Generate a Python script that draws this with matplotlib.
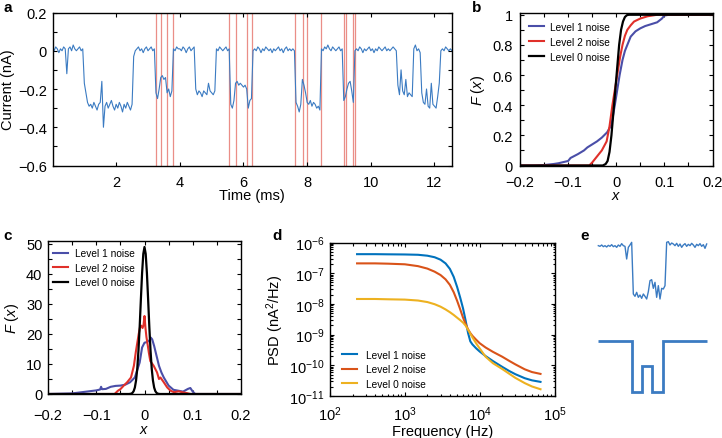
import numpy as np
import matplotlib
matplotlib.use("Agg")
import matplotlib.pyplot as plt
from matplotlib.ticker import MultipleLocator, LogLocator, NullFormatter, FixedLocator, FuncFormatter

plt.rcParams['font.family'] = ['Liberation Sans', 'DejaVu Sans']
plt.rcParams['mathtext.fontset'] = 'custom'
plt.rcParams['mathtext.rm'] = 'Liberation Sans'
plt.rcParams['mathtext.it'] = 'Liberation Sans:italic'

# ---------------- data ----------------
# Panel a: current trace (nA), sampled every trace_dt ms
trace_dt = 0.05
trace_values = [
    0.01, 0.00, 0.02, 0.01, -0.01, 0.01, 0.00, 0.02, 0.01, -0.12, 0.01, 0.02, 0.00, 0.03, 0.01, 0.00, 0.01, 0.02, 0.00, 0.01,
    -0.17, -0.22, -0.27, -0.29, -0.28, -0.30, -0.27, -0.29, -0.31, -0.28, -0.27, -0.16, -0.40, -0.29, -0.27, -0.30, -0.28, -0.26, -0.29, -0.31,
    -0.28, -0.30, -0.27, -0.29, -0.32, -0.28, -0.30, -0.27, -0.29, -0.31, -0.28, -0.03, 0.00, 0.01, 0.02, 0.00, 0.01, -0.01, 0.01, 0.02,
    0.00, 0.01, 0.02, 0.00, 0.01, -0.22, -0.25, -0.20, -0.14, -0.13, -0.15, -0.14, -0.22, -0.20, -0.24, -0.21, 0.01, 0.00, 0.02, 0.01,
    0.01, 0.00, 0.02, 0.01, -0.01, 0.01, 0.02, 0.00, 0.01, 0.02, -0.20, -0.23, -0.21, -0.22, -0.24, -0.21, -0.22, -0.23, -0.17, -0.21,
    -0.22, -0.23, -0.21, 0.01, 0.00, 0.02, 0.01, 0.00, 0.01, 0.02, 0.00, 0.01, -0.28, -0.30, -0.26, -0.17, -0.16, -0.18, -0.17, -0.18,
    -0.19, -0.18, -0.20, -0.30, -0.26, -0.25, 0.00, 0.01, 0.00, 0.02, 0.01, -0.01, 0.01, 0.00, 0.02, 0.01, 0.00, 0.01, -0.01, 0.01,
    0.00, 0.01, 0.02, 0.00, 0.01, -0.01, 0.01, 0.02, 0.00, 0.01, 0.00, 0.01, 0.00, -0.27, -0.29, -0.32, -0.28, -0.15, -0.18, -0.22,
    -0.27, -0.28, -0.26, -0.29, -0.27, -0.28, -0.30, -0.29, -0.31, 0.01, 0.00, 0.02, 0.01, 0.03, 0.01, 0.00, 0.02, 0.01, 0.00, 0.01,
    0.02, 0.00, 0.01, -0.26, -0.24, -0.20, -0.17, -0.16, -0.21, -0.27, 0.00, 0.01, 0.00, 0.02, 0.01, -0.01, 0.01, 0.00, 0.01, 0.02,
    0.00, 0.01, -0.01, 0.01, 0.00, 0.02, 0.01, 0.00, 0.01, 0.02, 0.00, 0.01, 0.00, 0.01, 0.02, 0.01, 0.00, -0.18, -0.23, -0.10,
    -0.21, -0.23, -0.15, -0.24, -0.22, -0.23, -0.24, 0.01, 0.03, 0.00, 0.01, -0.01, -0.22, -0.27, -0.28, -0.20, -0.29, -0.30, -0.17, -0.28,
    -0.29, -0.30, -0.24, -0.17, 0.00, 0.01, 0.00, 0.02, 0.01, 0.00, 0.01, 0.00,
]
event_lines_ms = [3.25, 3.41, 3.60, 3.77, 5.56, 5.75, 6.11, 6.28,
                  7.63, 7.86, 8.00, 8.42, 9.15, 9.21, 9.45, 9.49]

# Panel b: cumulative distributions
cdf_l1_x = [-0.20, -0.17, -0.15, -0.13, -0.12, -0.10, -0.095, -0.08, -0.067, -0.06, -0.04, -0.03, -0.019, -0.01,
            -0.003, 0.002, 0.007, 0.013, 0.018, 0.023, 0.03, 0.04, 0.05, 0.06, 0.07, 0.085, 0.095, 0.10, 0.11, 0.20]
cdf_l1_y = [0.0, 0.0, 0.003, 0.01, 0.015, 0.03, 0.05, 0.075, 0.10, 0.12, 0.16, 0.185, 0.22, 0.27,
            0.40, 0.50, 0.60, 0.70, 0.76, 0.80, 0.855, 0.89, 0.91, 0.925, 0.935, 0.95, 0.975, 0.995, 1.0, 1.0]
cdf_l2_x = [-0.20, -0.056, -0.05, -0.04, -0.03, -0.02, -0.014, -0.008, -0.003, 0.002, 0.008, 0.013, 0.018,
            0.023, 0.03, 0.037, 0.05, 0.065, 0.085, 0.20]
cdf_l2_y = [0.0, 0.0, 0.02, 0.06, 0.10, 0.16, 0.26, 0.40, 0.50, 0.60, 0.72, 0.80, 0.86,
            0.90, 0.93, 0.955, 0.975, 0.99, 1.0, 1.0]
cdf_l0_x = [-0.20, -0.028, -0.022, -0.018, -0.014, -0.010, -0.006, -0.002, 0.002, 0.006, 0.010, 0.014,
            0.018, 0.022, 0.026, 0.20]
cdf_l0_y = [0.0, 0.0, 0.01, 0.03, 0.09, 0.20, 0.35, 0.50, 0.65, 0.80, 0.90, 0.955,
            0.985, 0.997, 1.0, 1.0]

# Panel c: probability densities
pdf_l1_x = [-0.20, -0.15, -0.12, -0.10, -0.092, -0.09, -0.088, -0.08, -0.07, -0.06, -0.05, -0.04, -0.03, -0.02,
            -0.01, -0.005, 0.0, 0.005, 0.01, 0.013, 0.016, 0.02, 0.025, 0.03, 0.035, 0.04, 0.05, 0.06,
            0.07, 0.08, 0.09, 0.095, 0.10, 0.105, 0.20]
pdf_l1_y = [0.0, 0.2, 0.8, 1.2, 1.5, 2.4, 1.6, 1.7, 2.4, 2.7, 2.8, 3.1, 3.9, 5.5,
            10.5, 15.5, 17.1, 17.3, 17.8, 18.8, 18.2, 16.0, 12.7, 9.4, 7.2, 5.5, 2.8, 1.4,
            1.1, 0.8, 1.7, 2.0, 0.8, 0.0, 0.0]
pdf_l2_x = [-0.20, -0.062, -0.055, -0.05, -0.043, -0.036, -0.028, -0.022, -0.018, -0.012, -0.009, -0.007,
            -0.004, -0.002, 0.0, 0.002, 0.004, 0.007, 0.009, 0.012, 0.019, 0.026, 0.03, 0.033,
            0.04, 0.047, 0.054, 0.061, 0.071, 0.078, 0.088, 0.095, 0.20]
pdf_l2_y = [0.0, 0.0, 1.1, 1.6, 2.8, 3.9, 5.5, 9.4, 14.0, 20.0, 22.5, 22.8,
            22.0, 23.0, 26.0, 22.0, 19.0, 16.0, 13.8, 11.0, 9.4, 7.2, 5.0, 5.5,
            3.9, 2.2, 1.1, 0.6, 0.9, 0.6, 0.3, 0.0, 0.0]
pdf_l0_x = [-0.20, -0.0325, -0.030, -0.0275, -0.025, -0.0225, -0.020, -0.0175, -0.015, -0.0125, -0.010, -0.0075,
            -0.005, -0.0025, 0.0, 0.0025, 0.005, 0.0075, 0.010, 0.0125, 0.015, 0.0175, 0.020,
            0.0225, 0.025, 0.0275, 0.030, 0.0325, 0.20]
pdf_l0_y = [0.0, 0.0, 0.04, 0.13, 0.37, 0.94, 2.15, 4.5, 8.4, 14.5, 22.4, 31.6,
            40.3, 46.7, 49.0, 46.7, 40.3, 31.6, 22.4, 14.5, 8.4, 4.5, 2.15,
            0.94, 0.37, 0.13, 0.04, 0.0, 0.0]

# Panel d: power spectral densities (log10 of nA^2/Hz)
psd_freq = [230, 400, 600, 1000, 1500, 2000, 2500, 3000, 3500, 4000, 4500, 5000, 5500, 6000, 6500, 7000,
            7500, 8000, 9000, 10000, 12000, 15000, 20000, 25000, 30000, 40000, 50000, 65000]
psd_l1_log = [-6.38, -6.38, -6.385, -6.39, -6.40, -6.43, -6.48, -6.56, -6.68, -6.86, -7.12, -7.45, -7.80, -8.15,
              -8.55, -8.95, -9.22, -9.32, -9.45, -9.55, -9.70, -9.86, -10.05, -10.19, -10.29, -10.42, -10.49, -10.54]
psd_l2_log = [-6.68, -6.68, -6.69, -6.71, -6.77, -6.85, -6.95, -7.06, -7.20, -7.38, -7.62, -7.90, -8.18, -8.45,
              -8.66, -8.83, -8.95, -9.04, -9.17, -9.28, -9.42, -9.56, -9.72, -9.86, -9.97, -10.13, -10.22, -10.28]
psd_l0_log = [-7.84, -7.84, -7.85, -7.86, -7.89, -7.94, -8.01, -8.09, -8.18, -8.27, -8.36, -8.45, -8.53, -8.61,
              -8.71, -8.84, -8.97, -9.09, -9.29, -9.45, -9.72, -9.93, -10.12, -10.28, -10.41, -10.58, -10.69, -10.78]

# Panel e: schematic trace and idealised levels
e_trace_x = list(range(175, 501, 5))
e_trace_y = [110, 112, 108, 113, 110, 114, 109, 112, 107, 113, 110, 115, 108, 112, 104, 110, 112, 150, 115, 108,
             100, 255, 262, 250, 265, 258, 268, 255, 262, 270, 248, 215, 212, 238, 220, 265, 230, 270, 238, 240,
             230, 100, 98, 108, 102, 105, 110, 103, 112, 105, 115, 108, 104, 112, 106, 110, 103, 108, 115, 106,
             110, 104, 112, 107, 118, 105]
e_step_edges = [175, 275, 305, 335, 368, 500]
e_step_levels = [395, 550, 470, 550, 395]

# ---------------- figure ----------------
W, H = 722, 439
fig = plt.figure(figsize=(W / 100, H / 100), dpi=100)


def add_ax(left, top, right, bottom):
    return fig.add_axes([left / W, 1 - bottom / H, (right - left) / W, (bottom - top) / H])


def style(ax, xpad=7, ypad=4):
    ax.tick_params(which='both', direction='in', top=True, right=True, length=3, width=0.8,
                   labelsize=10.5)
    ax.tick_params(axis='x', pad=xpad)
    ax.tick_params(axis='y', pad=ypad)
    for s in ax.spines.values():
        s.set_linewidth(1.0)


fmt_num = FuncFormatter(lambda v, p: ('0' if abs(v) < 1e-9 else f'{v:g}'.replace('-', '\u2212')))
fmt_1 = FuncFormatter(lambda v, p: ('0' if abs(v) < 1e-9 else f'{v:.1f}'.replace('-', '\u2212')))

TRACE_BLUE = '#3b7bc2'
C_BLUE = '#4a4ea8'
C_RED = '#e0302a'

# Panel a
axa = add_ax(52.5, 13.5, 452, 166.5)
t = np.arange(len(trace_values)) * trace_dt
for xl in event_lines_ms:
    axa.axvline(xl, color='#e8827a', lw=0.9, alpha=0.9, zorder=1)
axa.plot(t, trace_values, color=TRACE_BLUE, lw=0.8, zorder=2)
axa.set_xlim(0, 12.55)
axa.set_ylim(-0.6, 0.2)
axa.xaxis.set_major_locator(FixedLocator([2, 4, 6, 8, 10, 12]))
axa.yaxis.set_major_locator(MultipleLocator(0.2))
axa.yaxis.set_minor_locator(MultipleLocator(0.1))
style(axa)
axa.yaxis.set_major_formatter(fmt_1)
axa.set_xlabel('Time (ms)', fontsize=10.5, labelpad=-1)
axa.set_ylabel('Current (nA)', fontsize=10.5, labelpad=2)

# Panel b
axb = add_ax(520, 13.5, 712.5, 166.5)
axb.plot(cdf_l1_x, cdf_l1_y, color=C_BLUE, lw=1.5, label='Level 1 noise')
axb.plot(cdf_l2_x, cdf_l2_y, color=C_RED, lw=1.5, label='Level 2 noise')
axb.plot(cdf_l0_x, cdf_l0_y, color='black', lw=1.6, label='Level 0 noise')
axb.set_xlim(-0.2, 0.2)
axb.set_ylim(0, 1.015)
axb.xaxis.set_major_locator(MultipleLocator(0.1))
axb.xaxis.set_minor_locator(MultipleLocator(0.05))
axb.yaxis.set_major_locator(MultipleLocator(0.2))
axb.yaxis.set_minor_locator(MultipleLocator(0.1))
style(axb, xpad=7, ypad=5)
axb.xaxis.set_major_formatter(fmt_num)
axb.yaxis.set_major_formatter(fmt_num)
axb.set_xlabel('$\\it{x}$', fontsize=10.5, labelpad=-1)
axb.set_ylabel('$\\it{F}$ ($\\it{x}$)', fontsize=10.5, labelpad=4)
axb.legend(loc='upper left', fontsize=7.3, frameon=False, handlelength=1.5, handletextpad=0.6,
           borderaxespad=0.5, labelspacing=0.5, bbox_to_anchor=(0.0, 1.0))

# Panel c
axc = add_ax(48, 242, 241, 395)
axc.plot(pdf_l1_x, pdf_l1_y, color=C_BLUE, lw=1.5, label='Level 1 noise')
axc.plot(pdf_l2_x, pdf_l2_y, color=C_RED, lw=1.5, label='Level 2 noise')
axc.plot(pdf_l0_x, pdf_l0_y, color='black', lw=1.6, label='Level 0 noise')
axc.set_xlim(-0.2, 0.2)
axc.set_ylim(0, 51)
axc.xaxis.set_major_locator(MultipleLocator(0.1))
axc.xaxis.set_minor_locator(MultipleLocator(0.05))
axc.yaxis.set_major_locator(MultipleLocator(10))
axc.yaxis.set_minor_locator(MultipleLocator(5))
style(axc, xpad=10, ypad=4)
axc.xaxis.set_major_formatter(fmt_num)
axc.set_xlabel('$\\it{x}$', fontsize=10.5, labelpad=0)
axc.set_ylabel('$\\it{F}$ ($\\it{x}$)', fontsize=10.5, labelpad=4)
axc.legend(loc='upper left', fontsize=7.3, frameon=False, handlelength=1.5, handletextpad=0.7,
           borderaxespad=0.1, labelspacing=0.45, bbox_to_anchor=(0.0, 0.985))

# Panel d
axd = add_ax(330, 243.5, 554.5, 397)
psd_f = np.array(psd_freq, dtype=float)
axd.plot(psd_f, 10 ** np.array(psd_l1_log), color='#0072BD', lw=1.5, label='Level 1 noise')
axd.plot(psd_f, 10 ** np.array(psd_l2_log), color='#D95319', lw=1.5, label='Level 2 noise')
axd.plot(psd_f, 10 ** np.array(psd_l0_log), color='#EDB120', lw=1.5, label='Level 0 noise')
axd.set_xscale('log')
axd.set_yscale('log')
axd.set_xlim(1e2, 1e5)
axd.set_ylim(1e-11, 1e-6)
axd.xaxis.set_major_locator(LogLocator(base=10, numticks=10))
axd.xaxis.set_minor_locator(LogLocator(base=10, subs=np.arange(2, 10), numticks=20))
axd.yaxis.set_major_locator(LogLocator(base=10, numticks=10))
axd.yaxis.set_minor_locator(LogLocator(base=10, subs=np.arange(2, 10), numticks=20))
axd.xaxis.set_minor_formatter(NullFormatter())
axd.yaxis.set_minor_formatter(NullFormatter())
style(axd, xpad=6, ypad=4)
axd.tick_params(which='minor', length=1.8)
axd.yaxis.set_major_formatter(FuncFormatter(
    lambda v, p: '$10^{\\mathregular{\u2212%d}}$' % round(-np.log10(v))))
axd.xaxis.set_major_formatter(FuncFormatter(
    lambda v, p: '$10^{\\mathregular{%d}}$' % round(np.log10(v))))
axd.set_xlabel('Frequency (Hz)', fontsize=10.5, labelpad=1)
axd.set_ylabel('PSD (nA$^{\\mathregular{2}}$/Hz)', fontsize=10.5, labelpad=2)
axd.legend(loc='lower left', fontsize=7.3, frameon=False, handlelength=1.5, handletextpad=0.9,
           borderaxespad=0.3, labelspacing=0.45, bbox_to_anchor=(0.02, 0.0))

# Panel e
axe = add_ax(540 + 160 / 3, 210 + 80 / 3, 540 + 515 / 3, 210 + 570 / 3)
axe.plot(e_trace_x, e_trace_y, color=TRACE_BLUE, lw=1.0)
axe.stairs(e_step_levels, e_step_edges, color=TRACE_BLUE, lw=2.0, baseline=None)
axe.set_xlim(160, 515)
axe.set_ylim(570, 80)
axe.axis('off')

# Panel letters
for lab, (px, py) in {'a': (3, 12), 'b': (472, 12), 'c': (3, 240), 'd': (272, 240), 'e': (580, 240)}.items():
    fig.text(px / W, 1 - py / H, lab, fontsize=11, fontweight='bold', va='baseline', ha='left')

fig.savefig('out.png', dpi=100)
